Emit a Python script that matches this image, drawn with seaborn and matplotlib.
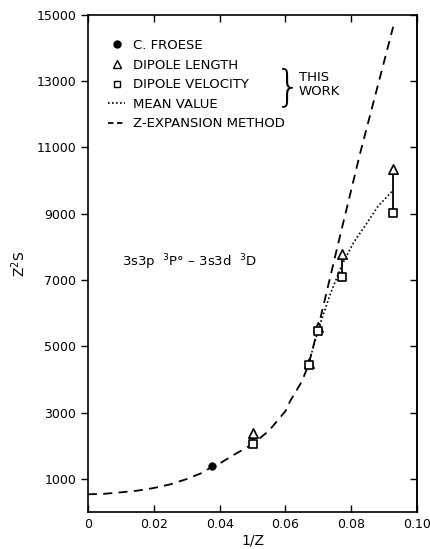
import numpy as np
import pandas as pd
import matplotlib
matplotlib.use('Agg')
import matplotlib.pyplot as plt
from matplotlib.lines import Line2D
import seaborn as sns

# values
froese_x = [0.0377]
froese_y = [1400]

calc_x = [0.0500, 0.0670, 0.0700, 0.0771, 0.0925]
length_y = [2400, 4500, 5600, 7790, 10360]
velocity_y = [2070, 4450, 5450, 7100, 9020]

mean_x = [0.0670, 0.0700, 0.0735, 0.0771, 0.0807, 0.0842, 0.0882, 0.0925]
mean_y = [4470, 5520, 6550, 7450, 8140, 8640, 9240, 9690]

zexp_x = [0.0, 0.005, 0.010, 0.015, 0.020, 0.025, 0.030, 0.035, 0.0377, 0.040,
          0.045, 0.050, 0.055, 0.060, 0.0614, 0.065, 0.0670, 0.0700, 0.0760,
          0.0827, 0.0880, 0.0927]
zexp_y = [540, 555, 600, 650, 730, 840, 1000, 1200, 1380, 1470,
          1770, 2050, 2460, 3050, 3350, 3950, 4450, 5600, 8100,
          10840, 12850, 14640]

xticks = [0, 0.02, 0.04, 0.06, 0.08, 0.10]
xtick_labels = ['0', '0.02', '0.04', '0.06', '0.08', '0.10']
yticks = [1000, 3000, 5000, 7000, 9000, 11000, 13000, 15000]

sns.set_style('ticks')
plt.rcParams['font.family'] = ['DejaVu Sans']
plt.rcParams['text.color'] = 'black'
plt.rcParams['axes.labelcolor'] = 'black'
plt.rcParams['xtick.color'] = 'black'
plt.rcParams['ytick.color'] = 'black'

fig = plt.figure(figsize=(4.31, 5.49), dpi=100)
ax = fig.add_axes([0.204, 0.067, 0.764, 0.906])

zexp = pd.DataFrame({'x': zexp_x, 'y': zexp_y})
sns.lineplot(data=zexp, x='x', y='y', ax=ax, color='black', lw=1.3,
             linestyle=(0, (5, 3.5)), sort=False)

mean = pd.DataFrame({'x': mean_x, 'y': mean_y})
sns.lineplot(data=mean, x='x', y='y', ax=ax, color='black', lw=1.2,
             linestyle=(0, (1, 1.4)), sort=False)

# connectors between length and velocity results
ax.vlines(calc_x, velocity_y, length_y, color='black', lw=1.3)

calc = pd.DataFrame({'x': calc_x, 'length': length_y, 'velocity': velocity_y})
sns.scatterplot(data=calc, x='x', y='length', ax=ax, marker='^', s=45,
                facecolor='white', edgecolor='black', linewidth=1.2, zorder=5)
sns.scatterplot(data=calc, x='x', y='velocity', ax=ax, marker='s', s=38,
                facecolor='white', edgecolor='black', linewidth=1.2, zorder=5)
sns.scatterplot(x=froese_x, y=froese_y, ax=ax, marker='o', s=30,
                color='black', edgecolor='black', zorder=5)

ax.set_xlim(0, 0.10)
ax.set_ylim(0, 15000)
ax.set_xticks(xticks)
ax.set_xticklabels(xtick_labels)
ax.set_yticks(yticks)
ax.tick_params(axis='both', labelsize=9, length=5, width=1, color='black')
ax.tick_params(axis='x', direction='in', top=True, pad=4)
ax.tick_params(axis='y', direction='out', right=False)
for side in ['left', 'right', 'top', 'bottom']:
    ax.spines[side].set_visible(True)
    ax.spines[side].set_linewidth(1.2)
    ax.spines[side].set_color('black')
# inward ticks on the right spine
sec = ax.secondary_yaxis('right')
sec.set_yticks(yticks)
sec.tick_params(direction='in', length=5, width=1, labelright=False)
sec.spines['right'].set_linewidth(1.2)

ax.set_xlabel('1/Z', fontsize=10, labelpad=2)
ax.set_ylabel('Z$^2$S', fontsize=10, labelpad=6)

ax.text(0.0103, 7550, '3s3p  $^3$P° – 3s3d  $^3$D', fontsize=9.5,
        va='center', ha='left')

handles = [
    Line2D([], [], marker='o', color='black', ls='none', markersize=5),
    Line2D([], [], marker='^', color='black', mfc='white', ls='none', markersize=6),
    Line2D([], [], marker='s', color='black', mfc='white', ls='none', markersize=5),
    Line2D([], [], color='black', lw=1.2, ls=(0, (1, 1.4))),
    Line2D([], [], color='black', lw=1.3, ls=(0, (3, 2))),
]
labels = ['C. FROESE', 'DIPOLE LENGTH', 'DIPOLE VELOCITY', 'MEAN VALUE',
          'Z-EXPANSION METHOD']
ax.legend(handles, labels, loc='upper left', bbox_to_anchor=(0.045, 0.962),
          frameon=False, fontsize=9.5, handlelength=1.3, handletextpad=0.6,
          labelspacing=0.5, borderaxespad=0)

ax.text(0.607, 0.853, '}', transform=ax.transAxes, fontsize=30,
        va='center', ha='center', fontweight='light')
ax.text(0.64, 0.86, 'THIS\nWORK', transform=ax.transAxes, fontsize=9.5,
        va='center', ha='left', linespacing=1.1)

fig.savefig('out.png', dpi=100)
